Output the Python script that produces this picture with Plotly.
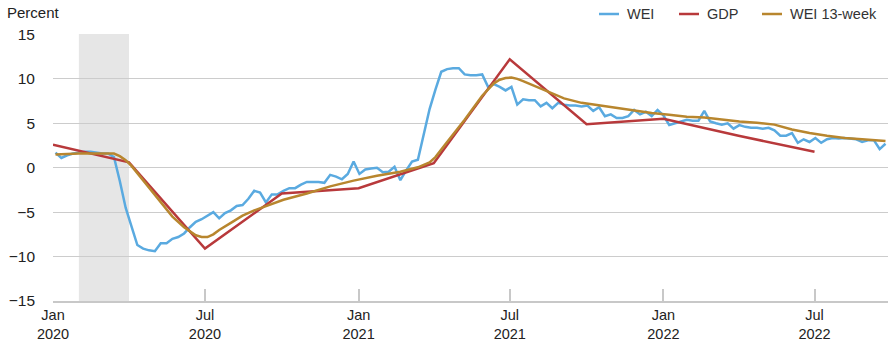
import plotly.graph_objects as go
import pandas as pd

# ---- Data ----
wei_start = "2020-01-04"
wei = [1.7, 1.1, 1.4, 1.6, 1.7, 1.8, 1.8, 1.7, 1.6, 1.6,
       1.2, -1.5, -4.5, -6.6, -8.7, -9.1, -9.3, -9.4, -8.5, -8.5,
       -8.0, -7.8, -7.4, -6.7, -6.1, -5.8, -5.4, -5.0, -5.7, -5.1,
       -4.8, -4.3, -4.2, -3.5, -2.6, -2.8, -3.9, -3.0, -3.0, -2.6,
       -2.3, -2.3, -1.9, -1.6, -1.6, -1.6, -1.7, -0.8, -1.0, -1.3,
       -0.7, 0.7, -0.7, -0.2, -0.1, 0.0, -0.5, -0.45, 0.1, -1.4,
       -0.3, 0.7, 0.9, 3.6, 6.6, 8.8, 10.8, 11.1, 11.2, 11.2,
       10.5, 10.4, 10.4, 10.5, 9.1, 9.4, 9.1, 8.7, 9.1, 7.1,
       7.7, 7.6, 7.6, 6.9, 7.3, 6.7, 7.3, 7.1, 7.0, 7.0,
       6.9, 7.0, 6.4, 6.8, 5.8, 6.0, 5.6, 5.6, 5.8, 6.5,
       6.0, 6.3, 5.8, 6.5, 5.9, 4.8, 5.0, 5.15, 5.4, 5.3,
       5.3, 6.4, 5.2, 5.0, 4.85, 5.0, 4.4, 4.8, 4.6, 4.5,
       4.5, 4.4, 4.5, 4.2, 3.6, 3.6, 3.9, 2.8, 3.2, 2.9,
       3.35, 2.8, 3.2, 3.35, 3.3, 3.35, 3.3, 3.2, 2.9, 3.1,
       3.1, 2.1, 2.7]

gdp_dates = ["2020-01-01", "2020-04-01", "2020-07-01", "2020-10-01",
             "2021-01-01", "2021-04-01", "2021-07-01", "2021-10-01",
             "2022-01-01", "2022-04-01", "2022-07-01"]
gdp = [2.6, 0.6, -9.1, -2.9, -2.3, 0.5, 12.2, 4.9, 5.5, 3.6, 1.8]

# WEI 13-week: week index (weeks after 2020-01-04) and value
wei13_weeks = [0, 4, 8, 10, 11, 12, 13, 14, 16, 18, 20, 22, 23, 24, 25, 26, 27, 28,
               30, 32, 34, 36, 39, 43, 47, 51, 55, 59, 62, 64, 65, 67, 70, 73, 75,
               76, 77, 78, 79, 80, 82, 84, 87, 90, 93, 96, 99, 102, 105, 108, 111,
               114, 117, 120, 123, 126, 129, 132, 135, 138, 142]
wei13 = [1.5, 1.6, 1.6, 1.6, 1.3, 0.85, 0.2, -0.6, -2.2, -3.9, -5.5, -6.7, -7.2,
         -7.6, -7.8, -7.8, -7.5, -7.0, -6.2, -5.4, -4.8, -4.3, -3.6, -2.9, -2.1,
         -1.45, -0.9, -0.45, 0.05, 0.6, 1.2, 2.9, 5.4, 8.1, 9.5, 9.9, 10.1, 10.15,
         10.0, 9.75, 9.2, 8.7, 7.8, 7.3, 7.0, 6.7, 6.4, 6.15, 5.95, 5.75, 5.65,
         5.4, 5.2, 5.05, 4.85, 4.3, 3.9, 3.6, 3.35, 3.2, 3.0]

tick_vals = ["2020-01-01", "2020-07-01", "2021-01-01", "2021-07-01", "2022-01-01", "2022-07-01"]
tick_text = ["Jan<br>2020", "Jul<br>2020", "Jan<br>2021", "Jul<br>2021", "Jan<br>2022", "Jul<br>2022"]
y_ticks = [-15, -10, -5, 0, 5, 10, 15]
recession = ["2020-02-01", "2020-04-01"]

series_names = ["WEI", "GDP", "WEI 13-week"]
series_colors = ["#5aaae0", "#b8393b", "#b8862e"]

# ---- Derived positions ----
wei_dates = pd.date_range(wei_start, periods=len(wei), freq="7D")
wei13_dates = [pd.Timestamp(wei_start) + pd.Timedelta(days=7 * w) for w in wei13_weeks]

FONT = "Liberation Sans, Arial, sans-serif"
W, H = 896, 350
ML, MR, MT, MB = 53, 8, 34, 49
PW, PH = W - ML - MR, H - MT - MB

def px_to_paper_x(px):
    return (px - ML) / PW

def px_to_paper_y(py):
    return (H - MB - py) / PH

fig = go.Figure()
fig.add_vrect(x0=recession[0], x1=recession[1], fillcolor="#e6e6e6", line_width=0, layer="below")
fig.add_trace(go.Scatter(x=wei_dates, y=wei, mode="lines", name=series_names[0],
                         line=dict(color=series_colors[0], width=2.5)))
fig.add_trace(go.Scatter(x=gdp_dates, y=gdp, mode="lines", name=series_names[1],
                         line=dict(color=series_colors[1], width=2.5)))
fig.add_trace(go.Scatter(x=wei13_dates, y=wei13, mode="lines", name=series_names[2],
                         line=dict(color=series_colors[2], width=2.5)))

fig.update_layout(
    width=W, height=H,
    margin=dict(l=ML, r=MR, t=MT, b=MB, autoexpand=False),
    plot_bgcolor="white", paper_bgcolor="white",
    font=dict(family=FONT, color="#222222", size=14),
    showlegend=False,
    xaxis=dict(range=["2020-01-01", "2022-09-27"], tickvals=tick_vals, ticktext=tick_text,
               showgrid=False, showline=True, linecolor="#c8c8c8", linewidth=1.5,
               ticks="inside", ticklen=12, tickcolor="#c8c8c8", tickwidth=1.5,
               tickfont=dict(size=14.5, color="#222222"), zeroline=False),
    yaxis=dict(range=[-15, 15.05], tickvals=y_ticks,
               showgrid=True, gridcolor="#cccccc", gridwidth=1.2, zeroline=False,
               showline=False, ticks="", ticklabelstandoff=17,
               tickfont=dict(size=15.5, color="#222222")),
)
fig.add_annotation(text="Percent", xref="paper", yref="paper", x=px_to_paper_x(5),
                   y=px_to_paper_y(12), xanchor="left", yanchor="middle", showarrow=False,
                   font=dict(size=15, color="#222222", family=FONT))

# Legend drawn manually (line sample + label)
legend_line_px = [(599, 619), (679, 699), (762, 782)]
legend_text_px = [625, 705, 788]
ly = px_to_paper_y(14)
for name, color, (a, b), tx in zip(series_names, series_colors, legend_line_px, legend_text_px):
    fig.add_shape(type="line", xref="paper", yref="paper", x0=px_to_paper_x(a), x1=px_to_paper_x(b),
                  y0=ly, y1=ly, line=dict(color=color, width=2.5))
    fig.add_annotation(text=name, xref="paper", yref="paper", x=px_to_paper_x(tx), y=ly,
                       xanchor="left", yanchor="middle", showarrow=False,
                       font=dict(size=14.5, color="#333333", family=FONT))

fig.write_html("out.html")
